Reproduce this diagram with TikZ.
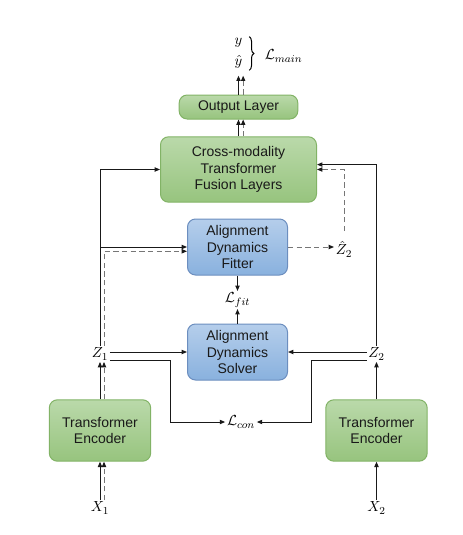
\documentclass[tikz,border=0pt]{standalone}
\usepackage[no-math]{fontspec}
\setmainfont{Liberation Sans}
\usetikzlibrary{arrows.meta,calc,decorations.pathreplacing}

\definecolor{grnline}{RGB}{130,179,102}
\definecolor{grntop}{RGB}{186,217,170}
\definecolor{grnbot}{RGB}{151,196,126}
\definecolor{bluline}{RGB}{108,142,191}
\definecolor{blutop}{RGB}{181,206,235}
\definecolor{blubot}{RGB}{137,177,222}
\definecolor{dashgray}{RGB}{118,118,118}
\definecolor{linedark}{RGB}{25,25,25}

\tikzset{every picture/.style={line width=0.75pt}}
\tikzset{
  blockg/.style={draw=grnline, top color=grntop, bottom color=grnbot, rounded corners=6pt, align=center, inner sep=0pt, font=\fontsize{10.5}{12.3}\selectfont, text=black!90},
  blockb/.style={blockg, draw=bluline, top color=blutop, bottom color=blubot},
  lbl/.style={inner sep=1pt, font=\fontsize{11}{13}\selectfont},
  arr/.style={-{Triangle[length=4pt,width=3.2pt,color=linedark]}, color=linedark},
  darr/.style={arr, color=dashgray, dash pattern=on 4pt off 2.5pt},
}

\begin{document}
\begin{tikzpicture}[x=0.75pt,y=0.75pt,yscale=-1,xscale=1]
\useasboundingbox (0,0) rectangle (463,535);

%Rounded Rect blocks
\node[blockg, minimum width=89pt, minimum height=18pt] (out) at (238.5,107) {Output Layer};
\node[blockg, minimum width=117pt, minimum height=49pt] (fus) at (238.5,169.5) {Cross-modality\\Transformer\\Fusion Layers};
\node[blockb, minimum width=75pt, minimum height=42pt] (fit) at (237.5,247) {Alignment\\Dynamics\\Fitter};
\node[blockb, minimum width=75pt, minimum height=42pt] (sol) at (237.5,352) {Alignment\\Dynamics\\Solver};
\node[blockg, minimum width=76pt, minimum height=46pt] (encA) at (100,430.5) {Transformer\\Encoder};
\node[blockg, minimum width=76pt, minimum height=46pt] (encB) at (376.5,430.5) {Transformer\\Encoder};

% Text Node
\node[lbl] (z1) at (100,354) {$Z_1$};
\node[lbl] (z2) at (376.5,354) {$Z_2$};
\node[lbl] (z2h) at (344,249) {$\hat{Z}_2$};
\node[lbl] (lfit) at (237.5,300) {$\mathcal{L}_{fit}$};
\node[lbl] (lcon) at (241,422) {$\mathcal{L}_{con}$};
\node[lbl] (x1) at (100,508) {$X_1$};
\node[lbl] (x2) at (376.5,508) {$X_2$};
\node[lbl] (y) at (238.5,43) {$y$};
\node[lbl] (yh) at (238.5,62) {$\hat{y}$};
\node[lbl, anchor=west] (lmain) at (263,56) {$\mathcal{L}_{main}$};

%Brace
\draw[decorate, decoration={brace, amplitude=3.5pt}] ([xshift=8pt]y.north) -- ([xshift=8pt]yh.south);

%Straight Lines: inputs and encoders
\draw[arr] (x1.north) -- (encA.south);
\draw[darr] ([xshift=3pt]x1.north) -- ([xshift=3pt]encA.south);
\draw[arr] (x2.north) -- (encB.south);
\draw[arr] (encA.north) -- (z1.south);
\draw[darr] ([xshift=3pt]encA.north) -- ([xshift=3pt]z1.south);
\draw[arr] (encB.north) -- (z2.south);

%Solver and contrastive loss
\draw[arr] (z1.east |- sol.west) -- (sol.west);
\draw[arr] (z2.west |- sol.east) -- (sol.east);
\draw[arr] ([yshift=5pt]z1.east) -| ([xshift=-41pt]lcon.west) -- (lcon.west);
\draw[arr] ([yshift=5pt]z2.west) -| ([xshift=41pt]lcon.east) -- (lcon.east);

%Fitter
\draw[arr] (sol.north) -- (lfit.south);
\draw[arr] (fit.south) -- (lfit.north);
\draw[arr] (z1.north) -- (z1.north |- fus.west) -- (fus.west);
\draw[arr] (z1.north |- fit.west) -- (fit.west);
\draw[darr] ([xshift=3pt]z1.north) |- ([yshift=3.2pt]fit.west);
\draw[darr] (fit.east) -- (fit.east -| z2h.west);

%Fusion
\draw[arr] (z2.north) |- ([yshift=-3.7pt]fus.east);
\draw[darr] ([yshift=-6pt]z2h.north) |- (fus.east);
\draw[arr] (fus.north) -- (out.south);
\draw[darr] ([xshift=3.5pt]fus.north) -- ([xshift=3.5pt]out.south);
\draw[arr] (out.north) -- ([yshift=4pt]yh.south);
\draw[darr] ([xshift=3.5pt]out.north) -- ([xshift=3.5pt,yshift=4pt]yh.south);

\end{tikzpicture}
\end{document}
